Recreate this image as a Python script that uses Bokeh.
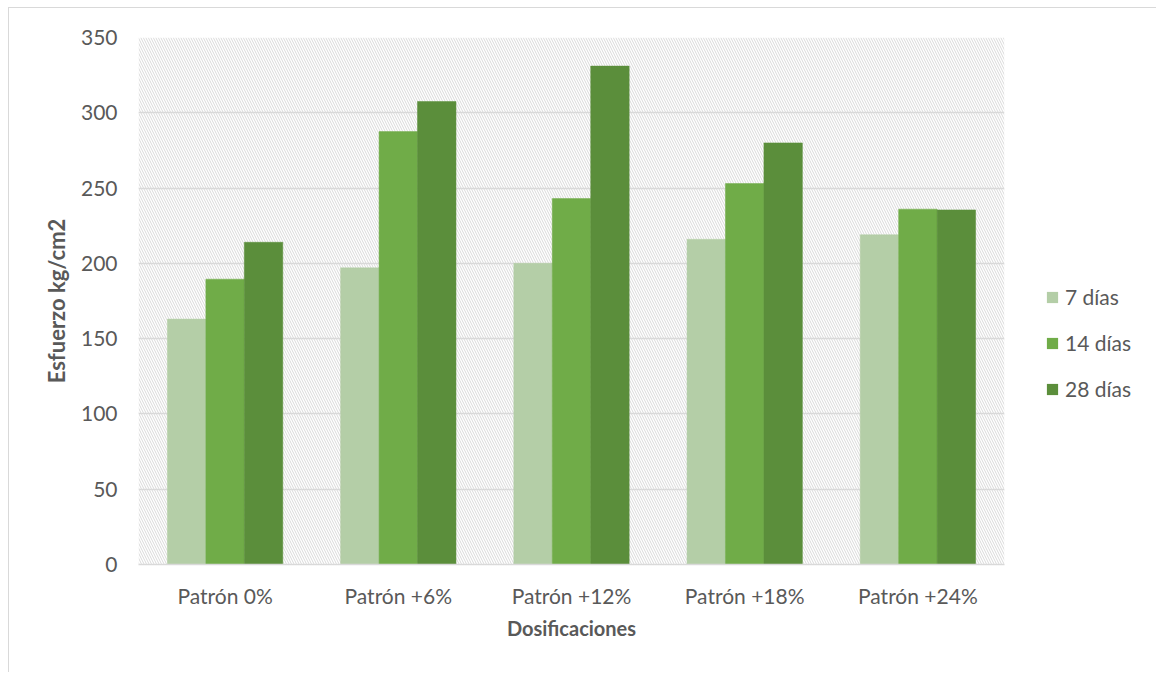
from bokeh.plotting import figure
from bokeh.layouts import row
from bokeh.models import (ColumnDataSource, FactorRange, Range1d, FixedTicker,
                          BoxAnnotation, Legend, LegendItem)
from bokeh.transform import dodge
from bokeh.embed import file_html
from bokeh.resources import INLINE

# Compressive strength by dosage and curing age
categorias = ["Patrón 0%", "Patrón +6%", "Patrón +12%", "Patrón +18%", "Patrón +24%"]
dias_7 = [163, 197, 200, 216, 219]
dias_14 = [189.5, 287.5, 243, 253, 236]
dias_28 = [214, 307.5, 331, 280, 235.5]
series = ["7 días", "14 días", "28 días"]
colores = ["#b4cea7", "#70ac48", "#5b8e3b"]
y_ticks = [0, 50, 100, 150, 200, 250, 300, 350]

FONT = "Lato"
TXT = "#595959"
GRID = "#d9d9d9"
BORDER = "1px solid #d9d9d9"

source = ColumnDataSource(dict(cat=categorias, d7=dias_7, d14=dias_14, d28=dias_28))

p = figure(
    x_range=FactorRange(*categorias, range_padding=0),
    y_range=Range1d(0, 350),
    width=1005, height=665,
    min_border_left=129, min_border_right=10,
    min_border_top=29, min_border_bottom=109,
    output_backend="svg", toolbar_location=None,
)
p.margin = (7, 0, 0, 8)
p.styles = {"border-top": BORDER, "border-left": BORDER}
p.outline_line_color = None
p.background_fill_color = "white"
p.border_fill_color = "white"

# diagonal hatch over the plotting area
p.add_layout(BoxAnnotation(fill_alpha=0, line_alpha=0, hatch_pattern="\\",
                           hatch_color=GRID, hatch_scale=5, hatch_weight=1,
                           level="image"))

bw = 0.222
for off, col, colr in zip([-bw, 0, bw], ["d7", "d14", "d28"], colores):
    p.vbar(x=dodge("cat", off, range=p.x_range), top=col, width=bw,
           source=source, fill_color=colr, line_color=colr, line_width=0.5)

p.ygrid.grid_line_color = GRID
p.ygrid.grid_line_width = 1.5
p.xgrid.grid_line_color = None

p.yaxis.ticker = FixedTicker(ticks=y_ticks)
p.yaxis.axis_line_color = None
p.yaxis.major_tick_line_color = None
p.yaxis.minor_tick_line_color = None
p.yaxis.major_label_standoff = 15
p.yaxis.axis_label = "Esfuerzo kg/cm2"
p.yaxis.axis_label_standoff = 8

p.xaxis.axis_line_color = GRID
p.xaxis.axis_line_width = 1.5
p.xaxis.major_tick_line_color = None
p.xaxis.minor_tick_line_color = None
p.xaxis.major_label_standoff = 12
p.xaxis.axis_label = "Dosificaciones"
p.xaxis.axis_label_standoff = 5

for ax in (p.xaxis[0], p.yaxis[0]):
    ax.major_label_text_font = FONT
    ax.major_label_text_font_size = "21px"
    ax.major_label_text_color = TXT
    ax.axis_label_text_font = FONT
    ax.axis_label_text_font_style = "bold"
    ax.axis_label_text_color = TXT
p.xaxis.axis_label_text_font_size = "20px"
p.yaxis.axis_label_text_font_size = "22px"

# legend panel to the right of the chart
q = figure(width=143, height=665, min_border=0,
           x_range=Range1d(0, 1), y_range=Range1d(0, 1),
           output_backend="svg", toolbar_location=None)
q.margin = (7, 0, 0, 0)
q.styles = {"border-top": BORDER}
q.axis.visible = False
q.grid.visible = False
q.outline_line_color = None
q.border_fill_color = "white"
q.background_fill_color = "white"

# zero-height swatch renderers that only feed the legend keys
swatches = [q.vbar(x=[0.5], top=[0], bottom=[0], width=0, fill_color=c,
                   line_color=c, line_width=0) for c in colores]
legend = Legend(
    items=[LegendItem(label=s, renderers=[r]) for s, r in zip(series, swatches)],
    location=(32, 163), orientation="vertical",
    glyph_width=14, glyph_height=14, label_height=20, spacing=21,
    label_standoff=6, padding=0, margin=0,
    label_text_font=FONT, label_text_font_size="21px", label_text_color=TXT,
    border_line_color=None, background_fill_alpha=0,
)
q.add_layout(legend)

layout = row(p, q, spacing=0)
open("out.html", "w").write(file_html(layout, INLINE))
